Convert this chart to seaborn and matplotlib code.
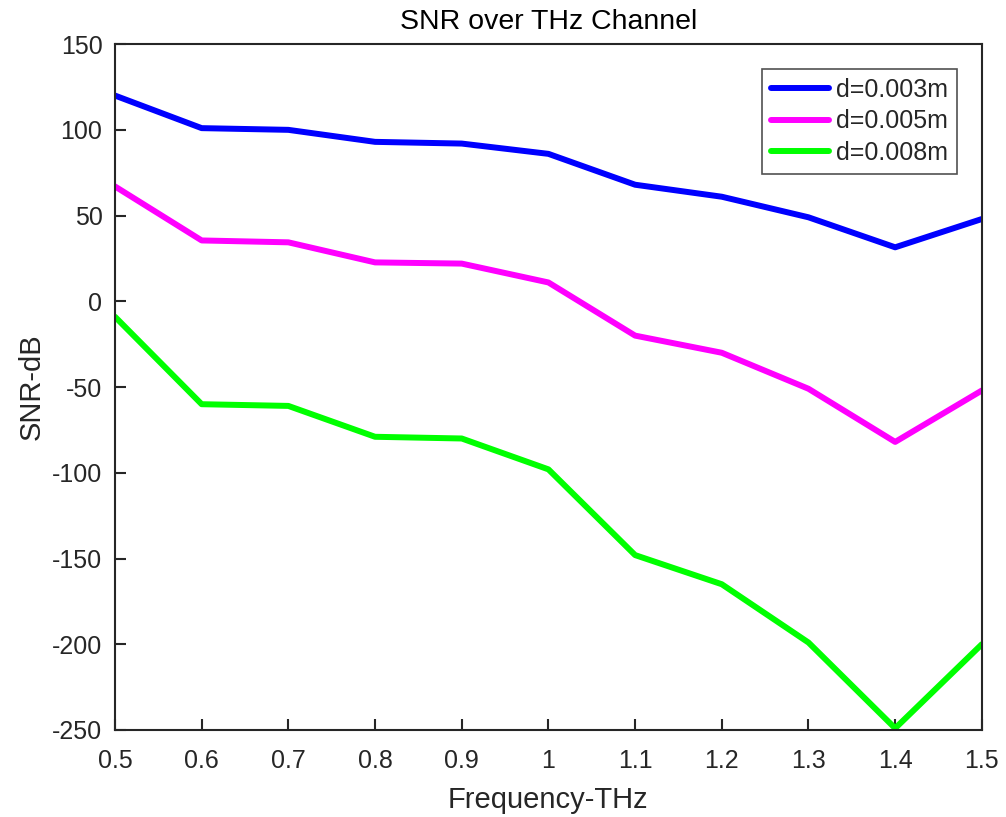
import matplotlib
matplotlib.use("Agg")
import matplotlib.pyplot as plt
import seaborn as sns
import pandas as pd

freq = [0.5, 0.6, 0.7, 0.8, 0.9, 1.0, 1.1, 1.2, 1.3, 1.4, 1.5]
snr_003 = [120, 101, 100, 93, 92, 86, 68, 61, 49, 31.5, 48]
snr_005 = [67, 35.5, 34.4, 22.7, 22, 11, -20, -30, -51, -82, -52]
snr_008 = [-9, -60, -61, -79, -80, -98, -148, -165, -199, -249, -200]
labels = ["d=0.003m", "d=0.005m", "d=0.008m"]
colors = ["#0000ff", "#ff00ff", "#00ff00"]
xticks = [0.5, 0.6, 0.7, 0.8, 0.9, 1.0, 1.1, 1.2, 1.3, 1.4, 1.5]
xticklabels = ["0.5", "0.6", "0.7", "0.8", "0.9", "1", "1.1", "1.2", "1.3", "1.4", "1.5"]
yticks = [-250, -200, -150, -100, -50, 0, 50, 100, 150]

rows = []
for lab, vals in zip(labels, [snr_003, snr_005, snr_008]):
    for f, v in zip(freq, vals):
        rows.append({"Frequency": f, "SNR": v, "Series": lab})
df = pd.DataFrame(rows)

sns.set_style("white")
plt.rcParams["font.family"] = ["Liberation Sans", "DejaVu Sans"]
plt.rcParams["axes.unicode_minus"] = False

fig = plt.figure(figsize=(10.06, 8.17), dpi=100)
ax = fig.add_axes([0.1143, 0.1065, 0.976 - 0.1143, 0.946 - 0.1065])
sns.lineplot(data=df, x="Frequency", y="SNR", hue="Series", palette=colors,
             linewidth=4.3, ax=ax, legend=True)

ax.set_xlim(0.5, 1.5)
ax.set_ylim(-250, 150)
ax.set_xticks(xticks)
ax.set_xticklabels(xticklabels)
ax.set_yticks(yticks)
ax.set_yticklabels([str(v) for v in yticks])
ax.tick_params(direction="in", length=8, width=1.5, labelsize=18, colors="#262626",
               top=False, right=False, bottom=True, left=True)
ax.tick_params(axis="x", pad=14)
ax.tick_params(axis="y", pad=9)
for s in ax.spines.values():
    s.set_color("#262626")
    s.set_linewidth(1.5)
ax.set_xlabel("Frequency-THz", fontsize=21, color="#262626", labelpad=9)
ax.set_ylabel("SNR-dB", fontsize=21, color="#262626", labelpad=5)
ax.set_title("SNR over THz Channel", fontsize=20.5, color="black", pad=11)

leg = ax.legend(loc="upper right", fontsize=18, frameon=True, fancybox=False,
                edgecolor="#262626", borderaxespad=1.0, handlelength=2.3,
                labelspacing=0.3, handletextpad=0.3, borderpad=0.35)
leg.get_frame().set_linewidth(1.2)
for line in leg.get_lines():
    line.set_linewidth(4.3)

fig.savefig("out.png", dpi=100)
